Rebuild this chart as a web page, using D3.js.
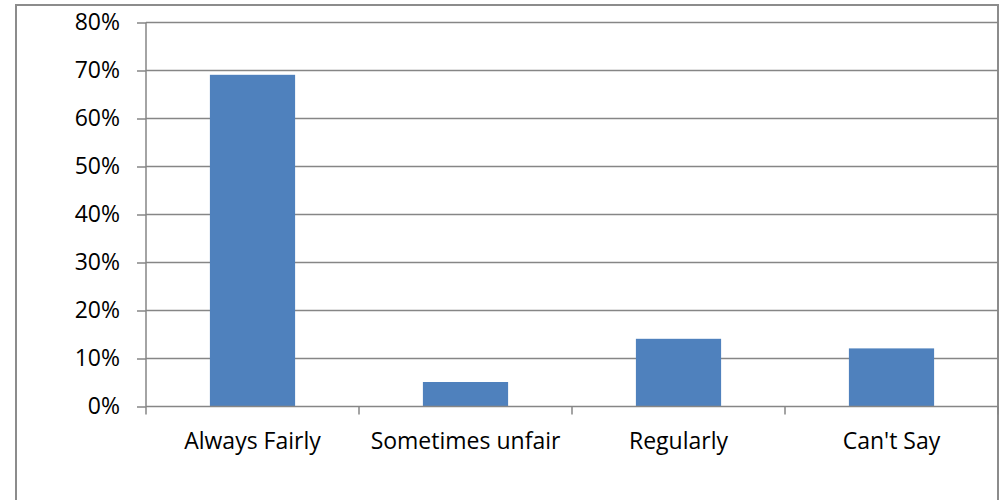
<!DOCTYPE html>
<html><head><meta charset="utf-8">
<script src="https://cdn.jsdelivr.net/npm/d3@7"></script>
<style>body{margin:0;background:#fff}svg{display:block}</style>
</head><body>
<svg id="c" width="1003" height="500"></svg>
<script>
const categories = ["Always Fairly", "Sometimes unfair", "Regularly", "Can't Say"];
const values = [0.69, 0.05, 0.14, 0.12];
const yTicks = [0, 0.1, 0.2, 0.3, 0.4, 0.5, 0.6, 0.7, 0.8];

const svg = d3.select("#c");
const font = "'Open Sans', sans-serif";
const L = 146, R = 998, T = 22, B = 406;

svg.append("rect").attr("x", 16).attr("y", 5).attr("width", 982).attr("height", 500)
  .attr("fill", "none").attr("stroke", "#8c8c8c").attr("stroke-width", 2);

const x = d3.scaleBand().domain(categories).range([L, R]).paddingInner(0.6).paddingOuter(0.3);
const xb = d3.scaleBand().domain(categories).range([L, R]);
const y = d3.scaleLinear().domain([0, 0.8]).range([B, T]);

// gridlines
svg.append("g").selectAll("line").data(yTicks.slice(1)).join("line")
  .attr("x1", L).attr("x2", R).attr("y1", d => y(d) + 0.5).attr("y2", d => y(d) + 0.5)
  .attr("stroke", "#868686").attr("stroke-width", 1.5);

// bars
svg.append("g").selectAll("rect").data(values).join("rect")
  .attr("x", (d, i) => x(categories[i])).attr("width", x.bandwidth())
  .attr("y", d => y(d)).attr("height", d => B - y(d)).attr("fill", "#4f81bd");

// y axis
const ya = svg.append("g").attr("transform", `translate(${L},0.5)`)
  .call(d3.axisLeft(y).tickValues(yTicks).tickFormat(d3.format(".0%")).tickSize(9).tickPadding(17));
ya.select(".domain").attr("stroke", "#868686").attr("stroke-width", 1.5).attr("d", `M0,${T}V${B}`);
ya.selectAll(".tick line").attr("stroke", "#868686").attr("stroke-width", 1.5);
ya.selectAll("text").attr("font-family", font).attr("font-size", 23).attr("fill", "#000");

// x axis
const xa = svg.append("g").attr("transform", `translate(0,${B + 0.5})`);
xa.append("line").attr("x1", L).attr("x2", R).attr("stroke", "#868686").attr("stroke-width", 1.5);
const edges = categories.map(c => xb(c)).concat([R]);
xa.selectAll(".tk").data(edges).join("line").attr("class", "tk")
  .attr("x1", d => d).attr("x2", d => d).attr("y1", 0).attr("y2", 8)
  .attr("stroke", "#868686").attr("stroke-width", 1.5);
xa.selectAll("text").data(categories).join("text")
  .attr("x", d => xb(d) + xb.bandwidth() / 2).attr("y", 42)
  .attr("text-anchor", "middle").attr("font-family", font).attr("font-size", 23).attr("fill", "#000")
  .text(d => d);
</script>
</body></html>
